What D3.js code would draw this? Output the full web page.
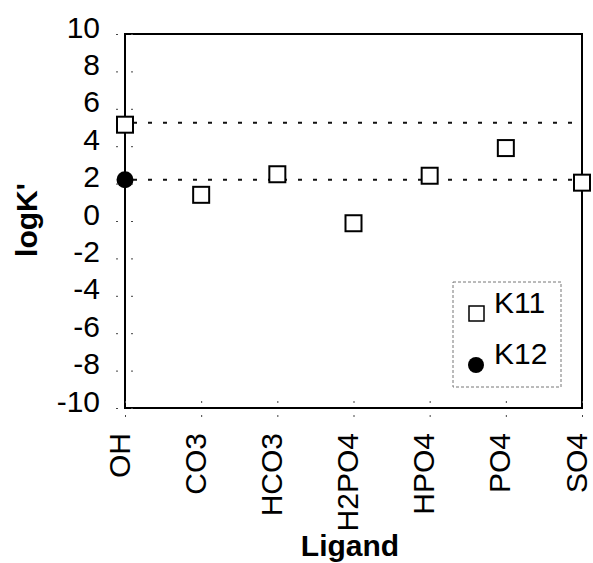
<!DOCTYPE html>
<html>
<head>
<meta charset="utf-8">
<script src="https://cdn.jsdelivr.net/npm/d3@7"></script>
<style>
  body { margin: 0; background: #fff; }
  text { font-family: "Liberation Sans", Arial, sans-serif; }
</style>
</head>
<body>
<div id="chart"></div>
<script>
var ligands = ["OH", "CO3", "HCO3", "H2PO4", "HPO4", "PO4", "SO4"]
var k11 = [5.15, 1.4, 2.5, -0.12, 2.42, 3.9, 2.05]
var k12 = [2.2, null, null, null, null, null, null]
var refLines = [5.25, 2.2]
var yTicks = [10, 8, 6, 4, 2, 0, -2, -4, -6, -8, -10]

var draw = function() {
  var width = 593, height = 563;
  var left = 125, right = 582, top = 34, bottom = 408;

  var svg = d3.select("#chart").append("svg")
    .attr("width", width)
    .attr("height", height);

  var x = d3.scalePoint()
    .domain(ligands)
    .range([left, right]);
  var y = d3.scaleLinear()
    .domain([-10, 10])
    .range([bottom, top]);

  // dotted reference lines
  svg.selectAll(".ref")
    .data(refLines)
    .enter().append("line")
    .attr("class", "ref")
    .attr("x1", left + 8).attr("x2", right)
    .attr("y1", function(d) { return y(d); })
    .attr("y2", function(d) { return y(d); })
    .style("stroke", "#111")
    .style("stroke-width", 2)
    .style("stroke-dasharray", "4,11");

  // frame
  svg.append("rect")
    .attr("x", left).attr("y", top)
    .attr("width", right - left).attr("height", bottom - top)
    .style("fill", "none")
    .style("stroke", "#000")
    .style("stroke-width", 2);

  // y axis
  var yAxis = svg.append("g")
    .attr("transform", "translate(" + left + ",0)")
    .call(d3.axisLeft(y).tickValues(yTicks).tickSize(9)
      .tickFormat(function(d) { return String(d); }));
  yAxis.select(".domain").remove();
  yAxis.selectAll(".tick line")
    .attr("x1", -9).attr("x2", 8)
    .style("stroke", "#444")
    .style("stroke-dasharray", "2,13");
  yAxis.selectAll(".tick text")
    .attr("x", -25)
    .attr("dy", 3)
    .style("font-size", "30px")
    .style("fill", "#000");

  // x axis
  var xAxis = svg.append("g")
    .attr("transform", "translate(0," + bottom + ")")
    .call(d3.axisBottom(x).tickSize(9));
  xAxis.select(".domain").remove();
  xAxis.selectAll(".tick line")
    .attr("y1", -7).attr("y2", 9)
    .style("stroke", "#444")
    .style("stroke-dasharray", "2,12");
  xAxis.selectAll(".tick text")
    .attr("transform", "rotate(-90)")
    .attr("x", -25)
    .attr("y", 4)
    .attr("dy", 0)
    .style("text-anchor", "end")
    .style("font-size", "30px")
    .style("fill", "#000");

  // series
  svg.selectAll(".k11")
    .data(ligands)
    .enter().append("rect")
    .attr("class", "k11")
    .attr("x", function(d) { return x(d) - 8; })
    .attr("y", function(d, i) { return y(k11[i]) - 8; })
    .attr("width", 16).attr("height", 16)
    .style("fill", "#fff")
    .style("stroke", "#000")
    .style("stroke-width", 2);

  svg.selectAll(".k12")
    .data(ligands.filter(function(d, i) { return k12[i] != null; }))
    .enter().append("circle")
    .attr("class", "k12")
    .attr("cx", function(d) { return x(d); })
    .attr("cy", function(d) { return y(k12[ligands.indexOf(d)]); })
    .attr("r", 8.5)
    .style("fill", "#000");

  // legend
  var legend = svg.append("g");
  legend.append("rect")
    .attr("x", 453).attr("y", 282)
    .attr("width", 108).attr("height", 105)
    .style("fill", "#fff")
    .style("stroke", "#777")
    .style("stroke-width", 1)
    .style("stroke-dasharray", "3,2");
  legend.append("rect")
    .attr("x", 469).attr("y", 306)
    .attr("width", 15).attr("height", 15)
    .style("fill", "#fff")
    .style("stroke", "#000")
    .style("stroke-width", 1.5);
  legend.append("circle")
    .attr("cx", 476).attr("cy", 365).attr("r", 8)
    .style("fill", "#000");
  legend.append("text")
    .attr("x", 494).attr("y", 313)
    .style("font-size", "30px")
    .text("K11");
  legend.append("text")
    .attr("x", 494).attr("y", 364)
    .style("font-size", "30px")
    .text("K12");

  // titles
  svg.append("text")
    .attr("transform", "translate(37,220) rotate(-90)")
    .style("text-anchor", "middle")
    .style("font-size", "30px")
    .style("font-weight", "bold")
    .text("logK'");
  svg.append("text")
    .attr("x", 350).attr("y", 556)
    .style("text-anchor", "middle")
    .style("font-size", "30px")
    .style("font-weight", "bold")
    .text("Ligand");
};
draw();
</script>
</body>
</html>
